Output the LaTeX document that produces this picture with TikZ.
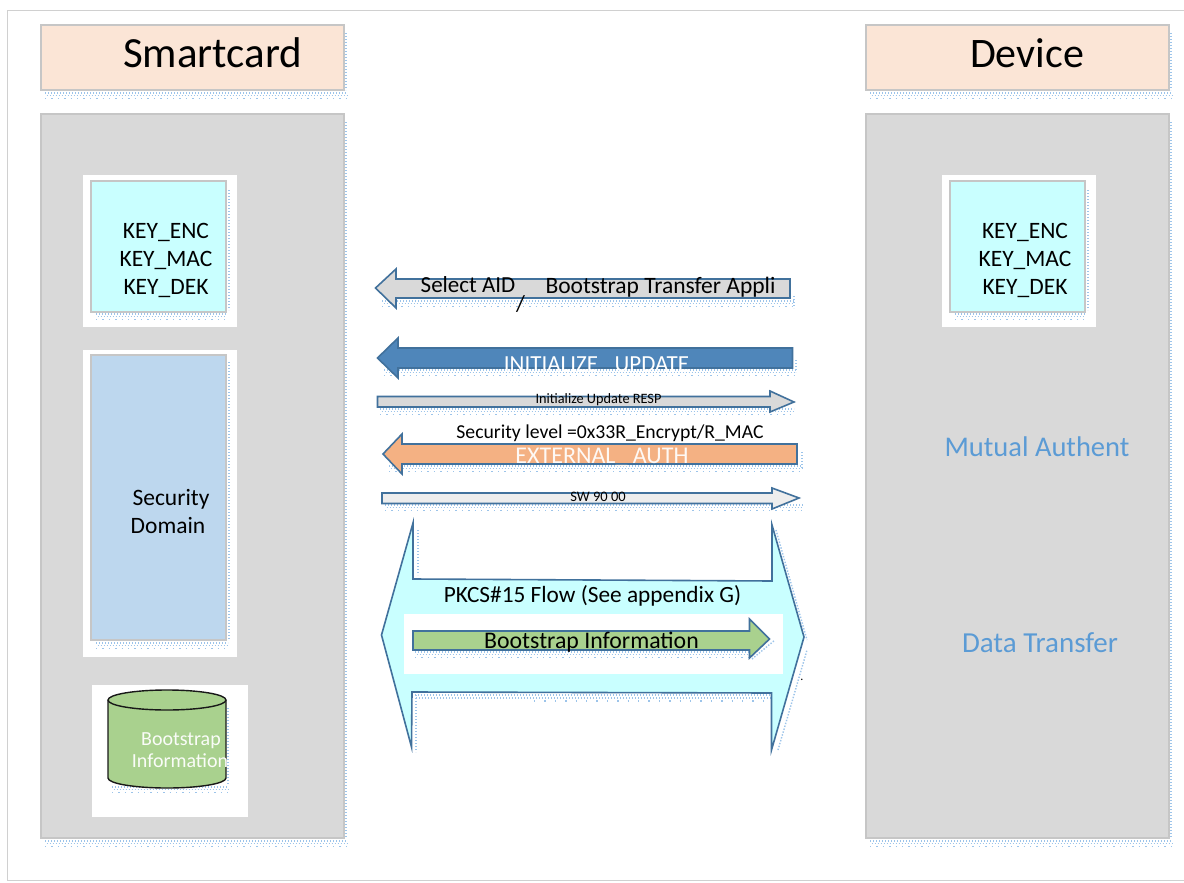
\documentclass[tikz,border=0pt]{standalone}
\usepackage{fontspec}
\setmainfont{Carlito}
\definecolor{framegrey}{HTML}{D0D0D0}
\definecolor{edgegrey}{HTML}{C6C6C6}
\definecolor{peach}{HTML}{FBE5D6}
\definecolor{panelgrey}{HTML}{D9D9D9}
\definecolor{keycyan}{HTML}{C9FFFF}
\definecolor{domainblue}{HTML}{BDD7EE}
\definecolor{leaf}{HTML}{A9D18E}
\definecolor{steel}{HTML}{41719C}
\definecolor{midblue}{HTML}{4F86BA}
\definecolor{orangefill}{HTML}{F4B183}
\definecolor{lightfill}{HTML}{EDEDED}
\definecolor{dotblue}{HTML}{9CC4EA}
\definecolor{labelblue}{HTML}{5B9BD5}
\newcommand{\fsz}[1]{\fontsize{#1}{#1}\selectfont}
\newcommand{\boxn}[6]{%
  \pgfmathsetmacro{\cxx}{(#3+#5)/2}\pgfmathsetmacro{\cyy}{(#4+#6)/2}%
  \pgfmathsetmacro{\wdd}{#5-#3}\pgfmathsetmacro{\htt}{#6-#4}%
  \node[#2,minimum width=\wdd pt,minimum height=\htt pt] (#1) at (\cxx,\cyy) {};}
\newcommand{\dotrow}[3]{\draw[dotline] (#1,#3) -- (#2,#3);}
\newcommand{\dotcol}[3]{\draw[dotline] (#3,#1) -- (#3,#2);}
% three-row dotted band below a shape
\newcommand{\dotband}[3]{%
  \dotrow{#1}{#2}{#3}\dotrow{#1+1.5}{#2}{#3+2.5}\draw[dotline,dash pattern=on 1.4pt off 5pt] (#1,#3+5.5) -- (#2,#3+5.5);}
\tikzset{
  x=1pt,y=-1pt,
  plain/.style={rectangle,inner sep=0pt,outer sep=0pt,line width=1.2pt},
  header/.style={plain,fill=peach,draw=edgegrey},
  panel/.style={plain,fill=panelgrey,draw=edgegrey},
  keybox/.style={plain,fill=keycyan,draw=edgegrey},
  domainbox/.style={plain,fill=domainblue,draw=edgegrey},
  whitebox/.style={plain,fill=white},
  dotline/.style={draw=dotblue,line width=1.4pt,dash pattern=on 1.4pt off 1.6pt},
  arrowshape/.style={draw=steel,line width=1.6pt,line join=miter},
  label/.style={inner sep=0pt,outer sep=0pt,align=center,text depth=0pt},
}
\begin{document}
\begin{tikzpicture}
\useasboundingbox (0,0) rectangle (1184,883);
\fill[white] (0,0) rectangle (1184,883);
\draw[framegrey,line width=1.3pt] (1184,10.5) -- (7.5,10.5) -- (7.5,880.5) -- (1184,880.5);

% --- left column ---
\dotband{45}{347}{93}\dotcol{33}{90}{346}
\dotband{45}{347}{841}\dotcol{122}{838}{346}
\boxn{smarthead}{header}{41}{25}{344}{90}
\boxn{smartpanel}{panel}{41}{114}{344}{838}
\node[label,font=\fsz{43}] (smarttitle) at (212.5,53) {Smartcard};

\boxn{keywhiteL}{whitebox}{83}{175}{237}{327}
\dotband{96}{226}{314}\dotcol{190}{310}{229}
\boxn{keyL}{keybox}{91}{181}{226}{312}
\node[label,font=\fsz{23.5}] (enL) at (166,231) {KEY\_ENC};
\node[label,font=\fsz{23.5}] (maL) at (166,259) {KEY\_MAC};
\node[label,font=\fsz{23.5}] (deL) at (166,287) {KEY\_DEK};

\boxn{domwhite}{whitebox}{83}{350}{237}{657}
\dotband{96}{228}{643}\dotcol{362}{640}{229}
\boxn{domain}{domainbox}{91}{355}{226}{640}
\node[label,font=\fsz{23.5}] (secw) at (171,497) {Security};
\node[label,font=\fsz{23.5}] (domw) at (168,525) {Domain};

\boxn{cylwhite}{whitebox}{92}{685}{248}{817}
\dotband{112}{228}{787}\dotcol{708}{785}{228}
\path[fill=leaf,draw=black!90,line width=1.4pt]
  (108,700) arc[start angle=180,end angle=0,x radius=59,y radius=-10]
  -- (226,778) arc[start angle=0,end angle=-180,x radius=59,y radius=-10] -- cycle;
\draw[black!90,line width=1.4pt] (108,700) arc[start angle=180,end angle=360,x radius=59,y radius=-10];
\node[label,font=\fsz{20},text=white!94!leaf] (cyl1) at (181,739) {Bootstrap};
\node[label,font=\fsz{20},text=white!94!leaf] (cyl2) at (180,761) {Information};

% --- right column ---
\dotband{870}{1172}{93}\dotcol{33}{90}{1171}
\dotband{870}{1172}{841}\dotcol{122}{838}{1171}
\boxn{devhead}{header}{866}{25}{1169}{90}
\boxn{devpanel}{panel}{866}{114}{1169}{838}
\node[label,font=\fsz{42}] (devtitle) at (1027,53) {Device};

\boxn{keywhiteR}{whitebox}{942}{175}{1096}{327}
\dotband{955}{1085}{314}\dotcol{190}{310}{1088}
\boxn{keyR}{keybox}{950}{181}{1085}{312}
\node[label,font=\fsz{23.5}] (enR) at (1025,231) {KEY\_ENC};
\node[label,font=\fsz{23.5}] (maR) at (1025,259) {KEY\_MAC};
\node[label,font=\fsz{23.5}] (deR) at (1025,287) {KEY\_DEK};

\node[label,font=\fsz{28.5},text=labelblue] (mutual) at (1037,447) {Mutual Authent};
\node[label,font=\fsz{29},text=labelblue] (transfer) at (1040,643) {Data Transfer};

% --- message arrows ---
\dotband{382}{794}{301}\dotcol{296}{308}{794}
\draw[arrowshape,fill=panelgrey] (375.5,288) -- (396,269) -- (396,279) -- (790,279) -- (790,298) -- (396,298) -- (396,308) -- cycle;
\node[label,font=\fsz{23}] (sel1) at (468,285) {Select AID};
\node[label,font=\fsz{23.5}] (sel2) at (660.5,285) {Bootstrap Transfer Appli};
\node[label,font=\fsz{23}] (slash) at (520.5,304) {/};

\dotband{384}{796}{370}\dotcol{360}{372}{796}
\draw[arrowshape,fill=midblue] (377.5,358) -- (398,338) -- (398,348) -- (792.5,348) -- (792.5,368) -- (398,368) -- (398,378) -- cycle;
\node[label,font=\fsz{23},text=white] (init) at (596.5,364) {INITIALIZE\_ UPDATE};

\dotband{380}{794}{409}
\draw[arrowshape,fill=panelgrey] (377.5,396.5) -- (770,396.5) -- (770,391) -- (794,402) -- (770,412) -- (770,407) -- (377.5,407) -- cycle;
\node[label,font=\fsz{14.3}] (resp) at (598.5,398.5) {Initialize Update RESP};

\node[label,font=\fsz{19.7}] (seclvl) at (610,432) {Security level =0x33R\_Encrypt/R\_MAC};

\dotband{389}{802}{466}\dotcol{452}{468}{802}
\draw[arrowshape,fill=orangefill] (383,454) -- (402,434) -- (402,444) -- (797,444) -- (797,464) -- (402,464) -- (402,474) -- cycle;
\node[label,font=\fsz{24},text=white!92!orangefill] (ext) at (602,456) {EXTERNAL\_ AUTH};

\dotband{385}{803}{505}
\draw[arrowshape,fill=lightfill] (382,493) -- (772,493) -- (772,488) -- (799,498) -- (772,509) -- (772,503.5) -- (382,503.5) -- cycle;
\node[label,font=\fsz{14.5}] (sw) at (598,497) {SW 90 00};

% --- PKCS#15 double arrow ---
\dotcol{530}{575}{418}\dotcol{695}{752}{416}
\dotrow{415}{772}{695}\dotrow{416}{772}{698}
\draw[dotline,dash pattern=on 1.4pt off 9pt] (534,701) -- (772,701);
\draw[dotline] (776,530) -- (807,640);\draw[dotline] (778,750) -- (807,650);
\draw[arrowshape,fill=keycyan] (381.5,635) -- (413,523) -- (413,579) -- (772,581) -- (772,525) -- (804,637) -- (771.5,750) -- (771.5,693) -- (412,692) -- (411.5,747) -- cycle;
\node[label,font=\fsz{23.3}] (pkcs) at (592.5,594) {PKCS\#15 Flow (See appendix G)};
\boxn{infowhite}{whitebox}{404}{614}{783}{674}
\dotband{415}{754}{652}
\draw[dotline] (752,659) -- (775,640);
\draw[arrowshape,fill=leaf] (413,631) -- (749.5,631) -- (749.5,619) -- (769.5,639) -- (749.5,658) -- (749.5,650) -- (413,650) -- cycle;
\node[label,font=\fsz{23.8}] (boot) at (591.5,640) {Bootstrap Information};
\node[label,font=\fsz{12}] (stray) at (802,680) {.};
\end{tikzpicture}
\end{document}
